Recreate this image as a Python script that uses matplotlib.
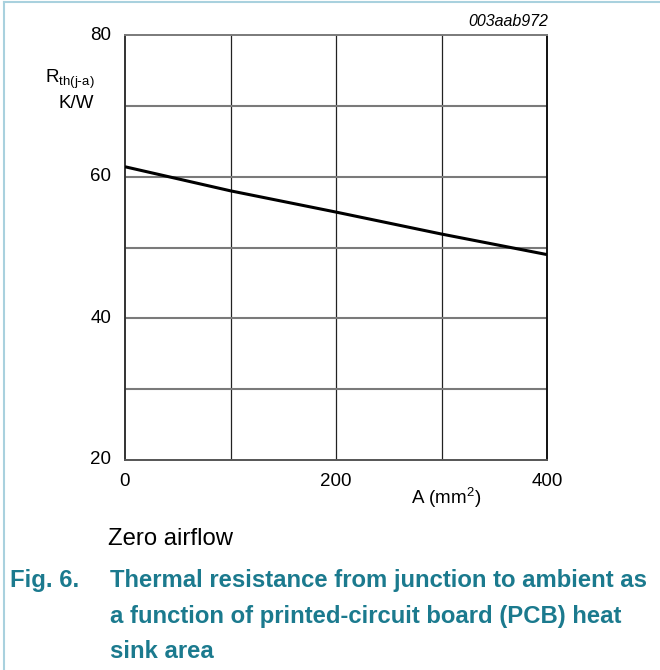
import matplotlib
matplotlib.use("Agg")
import matplotlib.pyplot as plt
from matplotlib.lines import Line2D

plt.rcParams['font.family'] = ['Liberation Sans', 'DejaVu Sans']

area = [0, 100, 200, 300, 400]
rth = [61.4, 58.0, 55.0, 51.9, 49.0]
x_ticks = [0, 200, 400]
y_ticks = [20, 40, 60, 80]
x_grid = [100, 200, 300]
y_grid = [30, 40, 50, 60, 70]

W, H = 660, 670
fig = plt.figure(figsize=(W / 100, H / 100), dpi=100)
ax = fig.add_axes([125 / W, 1 - 460 / H, (547 - 125) / W, (460 - 35) / H])
ax.set_xlim(0, 400)
ax.set_ylim(20, 80)

for xv in x_grid:
    ax.axvline(xv, color='#222222', lw=0.9, zorder=1)
for yv in y_grid:
    ax.axhline(yv, color='#7a7a7a', lw=1.5, zorder=1)

ax.plot(area, rth, color='black', lw=2.2, zorder=3, solid_capstyle='butt')

ax.set_xticks(x_ticks)
ax.set_yticks(y_ticks)
ax.tick_params(length=0, labelsize=13.5)
ax.tick_params(axis='x', pad=9)
ax.tick_params(axis='y', pad=10)
for lab in ax.get_yticklabels():
    lab.set_verticalalignment('center')

ax.spines['left'].set_color('#333333')
ax.spines['bottom'].set_color('#555555')
ax.spines['top'].set_color('#7a7a7a')
ax.spines['right'].set_color('#111111')
for s in ax.spines.values():
    s.set_linewidth(1.4)

# axis labels
fig.text(45 / W, 1 - 79 / H, r'R$_{\mathregular{th(j\text{-}a)}}$', fontsize=13.5, ha='left', va='center')
fig.text(94 / W, 1 - 104 / H, 'K/W', fontsize=13.5, ha='right', va='center')
fig.text(446 / W, 1 - 498 / H, r'A (mm$^{\mathregular{2}}$)', fontsize=13.5, ha='center', va='center')
fig.text(548 / W, 1 - 22 / H, '003aab972', fontsize=11.5, style='italic', ha='right', va='center')

fig.text(108 / W, 1 - 539 / H, 'Zero airflow', fontsize=17.2, ha='left', va='center')

teal = '#1b7a8e'
fig.text(10 / W, 1 - 581 / H, 'Fig. 6.', fontsize=17.2, weight='bold', color=teal, ha='left', va='center')
cap_lines = ['Thermal resistance from junction to ambient as',
             'a function of printed-circuit board (PCB) heat',
             'sink area']
for i, t in enumerate(cap_lines):
    fig.text(110 / W, 1 - (581 + 35 * i) / H, t, fontsize=17.2, weight='bold', color=teal, ha='left', va='center')

# frame lines
fig.add_artist(Line2D([4 / W, 4 / W], [0, 1 - 2 / H], color='#a9d1de', lw=1.5))
fig.add_artist(Line2D([4 / W, 1], [1 - 2 / H, 1 - 2 / H], color='#a9d1de', lw=1.5))

fig.savefig('out.png', dpi=100)
